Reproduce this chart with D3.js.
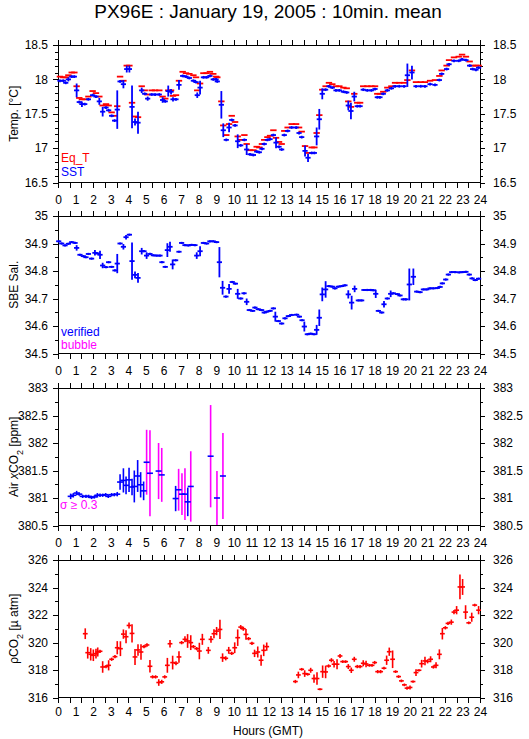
<!DOCTYPE html>
<html>
<head>
<meta charset="utf-8">
<script src="https://cdn.jsdelivr.net/npm/d3@7"></script>
<style>
body { margin: 0; background: #fff; }
text { font-family: "Liberation Sans", Arial, sans-serif; }
</style>
</head>
<body>
<div id="chart"></div>
<script>

// ---------------- data ----------------
const hourLabels = [0,1,2,3,4,5,6,7,8,9,10,11,12,13,14,15,16,17,18,19,20,21,22,23,24]

const tempTicks = [16.5, 17, 17.5, 18, 18.5]
const salTicks = [34.5, 34.6, 34.7, 34.8, 34.9, 35]
const airTicks = [380.5, 381, 381.5, 382, 382.5, 383]
const pco2Ticks = [316, 318, 320, 322, 324, 326]

// panel 1 : equilibrator temperature and SST
const tempHours = [0.11,0.30,0.44,0.59,0.78,0.93,1.06,1.21,1.36,1.52,1.73,1.97,2.16,2.35,2.54,2.73,2.88,3.05,3.22,3.37,
	3.53,3.72,3.91,4.06,4.21,4.38,4.55,4.76,4.93,5.10,5.33,5.52,5.76,5.95,6.10,6.27,6.43,6.54,6.71,6.88,
	7.09,7.28,7.47,7.70,7.85,7.92,8.08,8.27,8.45,8.64,8.83,8.99,9.06,9.29,9.40,9.57,9.73,9.88,10.07,10.22,
	10.39,10.60,10.73,10.92,11.11,11.30,11.45,11.60,11.73,11.91,12.06,12.25,12.40,12.57,12.72,12.87,13.06,13.29,13.54,13.71,
	13.86,14.05,14.22,14.43,14.58,14.71,14.86,15.03,15.22,15.41,15.60,15.81,16.00,16.23,16.42,16.51,16.66,16.85,17.02,17.18,
	17.36,17.59,17.82,18.03,18.16,18.31,18.50,18.73,18.96,19.17,19.41,19.68,19.87,20.13,20.36,20.63,20.87,21.16,21.44,21.69,
	21.82,22.10,22.24,22.52,22.79,22.98,23.20,23.41,23.58,23.77,23.92]
const eqT = [18.04,18.03,18.03,18.06,18.10,18.10,17.90,17.73,17.71,17.71,17.75,17.83,17.80,17.75,17.62,17.64,17.62,17.52,17.47,17.61,
	18.04,17.98,18.20,18.20,17.66,17.46,17.45,17.90,17.84,17.78,17.84,17.84,17.84,17.75,17.72,17.84,17.84,17.76,17.77,17.98,
	18.11,18.09,18.08,18.06,18.03,17.84,17.94,18.09,18.09,18.11,18.08,18.04,18.03,17.68,17.33,17.19,17.35,17.47,17.38,17.17,
	17.12,17.19,17.06,16.97,16.97,17.02,17.01,17.06,17.12,17.16,17.18,17.26,17.15,17.09,17.06,17.25,17.30,17.35,17.35,17.30,
	17.24,17.03,16.93,17.01,17.01,17.22,17.48,17.85,17.90,17.95,17.93,17.90,17.90,17.88,17.87,17.68,17.60,17.79,17.66,17.66,
	17.90,17.90,17.90,17.90,17.79,17.79,17.82,17.88,17.90,17.95,17.95,17.95,17.99,18.13,17.96,17.96,17.96,17.98,17.99,18.05,
	18.13,18.20,18.28,18.32,18.33,18.36,18.33,18.26,18.20,18.20,18.20]
const sst = [17.98,17.98,17.95,18.00,18.04,18.04,17.84,17.67,17.64,17.64,17.71,17.77,17.75,17.68,17.53,17.59,17.55,17.47,17.40,17.56,
	17.97,17.93,18.15,18.15,17.60,17.38,17.37,17.84,17.79,17.72,17.78,17.78,17.78,17.70,17.68,17.83,17.82,17.71,17.71,17.92,
	18.05,18.04,18.02,17.98,17.96,17.77,17.88,18.03,18.03,18.05,18.00,18.00,17.97,17.63,17.26,17.12,17.30,17.41,17.33,17.10,
	17.04,17.12,16.98,16.91,16.90,16.95,16.94,16.99,17.06,17.12,17.13,17.19,17.08,17.02,16.98,17.19,17.25,17.30,17.30,17.22,
	17.16,16.96,16.86,16.93,16.93,17.17,17.42,17.79,17.85,17.90,17.88,17.84,17.84,17.82,17.81,17.62,17.54,17.75,17.61,17.61,
	17.85,17.84,17.84,17.86,17.74,17.74,17.79,17.84,17.87,17.90,17.90,17.90,18.06,18.10,17.90,17.90,17.90,17.93,17.92,17.99,
	18.08,18.15,18.22,18.27,18.27,18.29,18.28,18.20,18.15,18.14,18.17]
const sstErr = [0.02,0.02,0.02,0.03,0.02,0.02,0.10,0.02,0.04,0.02,0.02,0.02,0.02,0.05,0.07,0.02,0.02,0.02,0.02,0.28,
	0.02,0.06,0.05,0.05,0.31,0.05,0.16,0.04,0.02,0.03,0.02,0.02,0.02,0.04,0.02,0.08,0.04,0.03,0.02,0.07,
	0.02,0.02,0.02,0.02,0.02,0.04,0.10,0.02,0.02,0.02,0.02,0.02,0.02,0.20,0.10,0.02,0.07,0.02,0.02,0.10,
	0.02,0.02,0.08,0.02,0.02,0.02,0.02,0.02,0.02,0.02,0.02,0.02,0.08,0.02,0.02,0.02,0.02,0.02,0.02,0.02,
	0.02,0.08,0.06,0.02,0.02,0.13,0.15,0.08,0.02,0.02,0.02,0.02,0.02,0.02,0.02,0.07,0.12,0.07,0.02,0.02,
	0.02,0.02,0.02,0.02,0.02,0.02,0.02,0.02,0.02,0.02,0.02,0.02,0.17,0.10,0.02,0.02,0.02,0.02,0.02,0.02,
	0.02,0.02,0.02,0.02,0.02,0.02,0.02,0.02,0.02,0.02,0.02]

// panel 2 : SBE salinity
const salHours = [0.04,0.21,0.40,0.59,0.78,0.97,1.06,1.25,1.44,1.59,1.73,1.91,2.10,2.24,2.39,2.54,2.73,2.88,3.05,3.24,
	3.37,3.53,3.72,3.87,4.06,4.21,4.38,4.55,4.76,4.89,5.04,5.23,5.42,5.61,5.80,5.91,6.10,6.22,6.37,6.52,
	6.69,6.88,7.03,7.22,7.41,7.60,7.79,7.89,8.08,8.27,8.45,8.64,8.83,9.02,9.18,9.36,9.55,9.73,9.91,10.09,
	10.22,10.39,10.58,10.73,10.88,11.07,11.20,11.39,11.58,11.73,11.87,12.06,12.25,12.36,12.53,12.72,12.91,13.10,13.29,13.57,
	13.73,13.88,14.01,14.18,14.37,14.56,14.71,14.86,15.03,15.22,15.41,15.60,15.75,15.94,16.13,16.32,16.51,16.70,16.87,17.08,
	17.27,17.40,17.59,17.78,17.93,18.07,18.22,18.41,18.54,18.73,18.92,19.07,19.30,19.45,19.64,19.79,19.98,20.21,20.40,20.59,
	20.78,20.97,21.16,21.35,21.57,21.73,21.86,22.05,22.20,22.39,22.58,22.82,23.01,23.20,23.39,23.55,23.73,23.92]
const salinity = [34.908,34.900,34.893,34.899,34.905,34.902,34.884,34.859,34.854,34.850,34.862,34.845,34.866,34.864,34.859,34.820,34.814,34.832,34.815,34.802,
	34.827,34.900,34.888,34.923,34.932,34.836,34.786,34.775,34.872,34.872,34.856,34.862,34.857,34.856,34.856,34.832,34.815,34.876,34.888,34.824,
	34.839,34.870,34.902,34.894,34.893,34.895,34.894,34.856,34.872,34.902,34.900,34.908,34.908,34.905,34.832,34.739,34.707,34.735,34.760,34.754,
	34.717,34.700,34.719,34.688,34.658,34.655,34.667,34.661,34.658,34.649,34.652,34.655,34.664,34.634,34.618,34.609,34.628,34.636,34.640,34.641,
	34.634,34.621,34.598,34.570,34.572,34.570,34.586,34.630,34.715,34.733,34.745,34.743,34.737,34.743,34.745,34.748,34.715,34.685,34.735,34.693,
	34.693,34.731,34.731,34.731,34.730,34.717,34.655,34.649,34.679,34.700,34.717,34.719,34.716,34.711,34.697,34.697,34.751,34.779,34.725,34.723,
	34.733,34.733,34.737,34.737,34.738,34.742,34.755,34.769,34.787,34.796,34.796,34.795,34.796,34.797,34.787,34.773,34.767,34.772]
const salErr = [0.004,0.004,0.004,0.004,0.004,0.004,0.010,0.004,0.004,0.004,0.004,0.004,0.010,0.004,0.015,0.010,0.004,0.004,0.004,0.004,
	0.035,0.004,0.010,0.008,0.004,0.068,0.012,0.018,0.012,0.004,0.012,0.004,0.004,0.004,0.004,0.004,0.004,0.025,0.018,0.018,
	0.004,0.004,0.004,0.004,0.004,0.004,0.004,0.012,0.018,0.004,0.004,0.004,0.004,0.004,0.055,0.025,0.004,0.018,0.004,0.004,
	0.018,0.004,0.004,0.012,0.004,0.004,0.004,0.004,0.004,0.004,0.004,0.004,0.004,0.018,0.004,0.004,0.004,0.004,0.004,0.004,
	0.004,0.004,0.018,0.004,0.004,0.004,0.018,0.030,0.025,0.030,0.004,0.004,0.004,0.004,0.004,0.004,0.015,0.025,0.012,0.004,
	0.004,0.004,0.004,0.004,0.004,0.015,0.004,0.004,0.012,0.004,0.012,0.004,0.004,0.004,0.004,0.004,0.058,0.030,0.004,0.004,
	0.004,0.004,0.004,0.004,0.004,0.004,0.004,0.004,0.004,0.004,0.004,0.004,0.004,0.004,0.004,0.004,0.004,0.004]

// panel 3 : air xCO2 (bars with sigma >= 0.3 are flagged)
const airHours = [0.72,0.87,1.06,1.21,1.40,1.59,1.74,1.91,2.07,2.24,2.39,2.54,2.71,2.86,3.05,3.20,3.37,3.53,3.72,3.87,
	4.04,4.21,4.34,4.53,4.70,4.87,5.04,5.23,5.72,5.90,6.69,6.86,7.05,7.22,7.38,7.55,8.68,9.04,9.38]
const airCO2 = [381.03,381.05,381.09,381.07,381.03,381.03,381.03,381.01,381.02,381.05,381.05,381.05,381.06,381.03,381.06,381.06,381.07,381.29,381.32,381.23,
	381.33,381.20,381.21,381.40,381.24,381.13,381.65,381.45,381.49,381.42,380.99,381.15,381.07,381.07,380.93,381.21,381.76,381.00,381.40]
const airErr = [0.05,0.04,0.04,0.03,0.03,0.03,0.03,0.03,0.03,0.04,0.03,0.03,0.03,0.03,0.03,0.03,0.04,0.14,0.22,0.16,
	0.22,0.15,0.29,0.29,0.23,0.17,0.59,0.78,0.51,0.49,0.23,0.38,0.38,0.47,0.26,0.64,0.93,0.49,0.78]

// panel 4 : seawater pCO2
const pco2Hours = [1.55,1.69,1.86,2.01,2.16,2.26,2.39,2.54,2.73,2.88,3.05,3.24,3.37,3.55,3.72,3.87,4.04,4.21,4.38,4.55,
	4.72,4.89,5.06,5.23,5.38,5.55,5.73,5.90,6.07,6.22,6.37,6.52,6.71,6.88,7.03,7.22,7.37,7.55,7.70,7.89,
	8.04,8.21,8.55,8.70,8.87,9.02,9.21,9.36,9.54,9.71,9.88,10.05,10.22,10.39,10.54,10.69,10.84,11.03,11.18,11.36,
	11.55,11.70,11.87,13.50,13.67,13.86,14.03,14.20,14.37,14.56,14.73,14.90,15.05,15.22,15.39,15.55,15.70,15.87,16.04,16.19,
	16.36,16.51,16.68,16.85,17.02,17.18,17.36,17.52,17.71,17.86,18.01,18.18,18.35,18.54,18.69,18.84,19.03,19.20,19.37,19.53,
	19.70,19.85,20.02,20.19,20.36,20.53,20.68,20.87,21.02,21.19,21.35,21.50,21.69,21.86,22.03,22.18,22.37,22.52,22.67,22.86,
	23.01,23.18,23.36,23.53,23.70,23.92]
const pco2 = [320.64,319.26,319.14,319.07,319.19,319.31,319.36,318.22,318.25,318.34,318.78,318.97,319.62,319.55,320.61,320.42,321.24,320.66,318.95,319.46,
	319.31,319.70,319.82,318.27,317.50,317.50,317.09,317.14,317.50,318.34,319.91,318.54,318.49,318.95,319.99,320.23,320.11,319.99,319.70,319.55,
	319.38,320.23,319.43,320.23,320.64,320.83,320.95,318.90,318.85,319.43,319.21,319.62,320.35,321.12,321.00,320.59,320.28,319.94,319.21,319.31,
	318.71,319.43,319.70,317.16,317.64,318.05,317.74,317.69,317.98,317.38,317.38,316.60,317.88,317.86,318.29,318.71,318.42,318.42,319.02,318.61,
	318.61,318.25,317.98,318.78,318.25,318.25,318.49,318.44,318.34,318.34,318.54,317.88,317.88,318.13,318.71,319.33,318.78,317.88,317.52,317.21,
	316.92,316.68,316.73,317.16,317.81,317.98,318.46,318.66,318.63,318.78,318.22,318.34,319.14,320.64,321.07,321.39,321.48,322.21,322.35,324.04,
	324.04,322.21,321.43,321.84,322.72,322.35]
const pco2Err = [0.39,0.43,0.45,0.42,0.36,0.33,0.12,0.42,0.12,0.37,0.12,0.12,0.48,0.54,0.34,0.48,0.22,0.66,0.58,0.42,
	0.57,0.12,0.12,0.46,0.12,0.12,0.24,0.15,0.12,0.54,0.27,0.50,0.15,0.42,0.12,0.22,0.50,0.54,0.12,0.12,
	0.60,0.40,0.25,0.24,0.33,0.30,0.70,0.31,0.15,0.25,0.12,0.39,0.60,0.15,0.15,0.39,0.12,0.12,0.27,0.40,
	0.40,0.42,0.30,0.12,0.24,0.10,0.24,0.10,0.18,0.30,0.45,0.08,0.45,0.46,0.12,0.15,0.24,0.36,0.15,0.10,
	0.10,0.18,0.20,0.18,0.12,0.12,0.22,0.24,0.10,0.10,0.12,0.12,0.12,0.10,0.34,0.30,0.64,0.10,0.10,0.10,
	0.10,0.12,0.15,0.08,0.24,0.08,0.28,0.31,0.15,0.22,0.12,0.22,0.36,0.42,0.12,0.12,0.19,0.15,0.30,0.90,
	0.58,0.50,0.10,0.33,0.10,0.30]

// ---------------- drawing ----------------
function drawChart() {

	const W = 529, H = 739
	const margin = {left: 58, right: 49}
	const panelH = 137.5
	const font = '"Liberation Sans", Arial, sans-serif'

	const svg = d3.select("#chart")
				.append("svg")
				.attr("width", W)
				.attr("height", H)

	const x = d3.scaleLinear().domain([0, 24]).range([margin.left, W - margin.right])

	// ticks every 40 minutes along the time axis
	const hourTicks = d3.range(0, 37).map(i => i * 2 / 3)

	svg.append("text")
	   .attr("x", 268)
	   .attr("y", 18)
	   .attr("text-anchor", "middle")
	   .attr("font-size", 19)
	   .text("PX96E : January 19, 2005 : 10min. mean")

	const panels = [
		{top: 45, ticks: tempTicks, minor: 0.1, labelGap: 12.5,
		 title: [["Temp. [°C]"]]},
		{top: 216, ticks: salTicks, minor: 0.05, labelGap: 12.5,
		 title: [["SBE Sal."]]},
		{top: 388, ticks: airTicks, minor: 0.25, labelGap: 12.5,
		 title: [["Air "], ["x", "italic"], ["CO"], ["2", "sub"], [" [ppm]"]]},
		{top: 560, ticks: pco2Ticks, minor: 1, labelGap: 10,
		 title: [["ρ"], ["CO"], ["2", "sub"], [" [µ atm]"]]}
	]

	panels.forEach(function(p) {
		const lo = p.ticks[0], hi = p.ticks[p.ticks.length - 1]
		p.y = d3.scaleLinear().domain([lo, hi]).range([p.top + panelH, p.top])
		const nMinor = Math.round((hi - lo) / p.minor)
		const minors = d3.range(0, nMinor + 1).map(i => +(lo + i * p.minor).toFixed(3))
		const bottom = p.top + panelH

		const g = svg.append("g")

		const styleAxis = a => a.attr("font-size", 12).attr("font-family", font)
			.call(s => s.select(".domain").remove())
			.call(s => s.selectAll("line").attr("stroke", "#000").attr("shape-rendering", "crispEdges"))

		// y axes (both sides), major + minor ticks
		g.append("g").attr("transform", "translate(" + x(0) + ",0)")
		 .call(d3.axisLeft(p.y).tickValues(p.ticks).tickSize(5).tickPadding(5).tickFormat(d => +d.toFixed(2)))
		 .call(styleAxis)
		g.append("g").attr("transform", "translate(" + x(0) + ",0)")
		 .call(d3.axisLeft(p.y).tickValues(minors).tickSize(3).tickFormat(""))
		 .call(styleAxis)
		g.append("g").attr("transform", "translate(" + x(24) + ",0)")
		 .call(d3.axisRight(p.y).tickValues(p.ticks).tickSize(5).tickPadding(8).tickFormat(d => +d.toFixed(2)))
		 .call(styleAxis)
		g.append("g").attr("transform", "translate(" + x(24) + ",0)")
		 .call(d3.axisRight(p.y).tickValues(minors).tickSize(3).tickFormat(""))
		 .call(styleAxis)

		// x axes
		g.append("g").attr("transform", "translate(0," + p.top + ")")
		 .call(d3.axisTop(x).tickValues(hourTicks).tickSize(5).tickFormat(""))
		 .call(styleAxis)
		g.append("g").attr("transform", "translate(0," + bottom + ")")
		 .call(d3.axisBottom(x).tickValues(hourTicks).tickSize(5).tickFormat(""))
		 .call(styleAxis)
		g.append("g").attr("transform", "translate(0," + bottom + ")")
		 .call(d3.axisBottom(x).tickValues(hourLabels).tickSize(0).tickPadding(p.labelGap))
		 .call(styleAxis)

		// frame
		g.append("rect")
		 .attr("x", x(0)).attr("y", p.top)
		 .attr("width", x(24) - x(0)).attr("height", panelH)
		 .attr("fill", "none").attr("stroke", "#000")
		 .attr("shape-rendering", "crispEdges")

		// rotated axis title
		const t = svg.append("text")
		   .attr("transform", "translate(18," + (p.top + panelH / 2) + ") rotate(-90)")
		   .attr("text-anchor", "middle")
		   .attr("font-size", 12)
		p.title.forEach(function(part) {
			const s = t.append("tspan").text(part[0])
			if (part[1] == "italic") s.attr("font-style", "italic")
			if (part[1] == "sub") s.attr("baseline-shift", "sub").attr("font-size", 9)
		})
	})

	svg.append("text")
	   .attr("x", 268).attr("y", 735)
	   .attr("text-anchor", "middle")
	   .attr("font-size", 12)
	   .text("Hours (GMT)")

	// error-bar crosses
	function crosses(y, hours, vals, errs, half, hColor, vColor, width) {
		const rows = hours.map((h, i) => ({h: h, v: vals[i], e: errs ? errs[i] : 0}))
		const g = svg.append("g").attr("stroke-width", width)
		g.selectAll(null).data(rows.filter(d => d.e > 0)).enter()
		 .append("line")
		 .attr("x1", d => x(d.h)).attr("x2", d => x(d.h))
		 .attr("y1", d => y(d.v - d.e)).attr("y2", d => y(d.v + d.e))
		 .attr("stroke", d => vColor(d.e))
		g.selectAll(null).data(rows).enter()
		 .append("line")
		 .attr("x1", d => x(d.h) - half).attr("x2", d => x(d.h) + half)
		 .attr("y1", d => y(d.v)).attr("y2", d => y(d.v))
		 .attr("stroke", hColor)
	}

	const blue = "#0000ff", red = "#ff0000", magenta = "#ff00ff"

	crosses(panels[0].y, tempHours, eqT, null, 3.2, red, () => red, 1.8)
	crosses(panels[0].y, tempHours, sst, sstErr, 2.6, blue, () => blue, 1.8)
	crosses(panels[1].y, salHours, salinity, salErr, 2.6, blue, () => blue, 1.8)
	crosses(panels[2].y, airHours, airCO2, airErr, 3, blue, e => e >= 0.3 ? magenta : blue, 1.6)
	crosses(panels[3].y, pco2Hours, pco2, pco2Err, 2.4, red, () => red, 1.6)

	// in-panel legends
	const legend = [
		{x: 61, y: 162, text: "Eq_T", color: red},
		{x: 61, y: 176, text: "SST", color: blue},
		{x: 61, y: 336, text: "verified", color: blue},
		{x: 61, y: 349, text: "bubble", color: magenta},
		{x: 60, y: 509, text: "σ ≥ 0.3", color: magenta}
	]
	svg.selectAll("text.legend")
	   .data(legend)
	   .enter()
	   .append("text")
	   .attr("class", "legend")
	   .attr("x", d => d.x)
	   .attr("y", d => d.y)
	   .attr("font-size", 12)
	   .attr("fill", d => d.color)
	   .text(d => d.text)
}

drawChart();
</script>
</body>
</html>
